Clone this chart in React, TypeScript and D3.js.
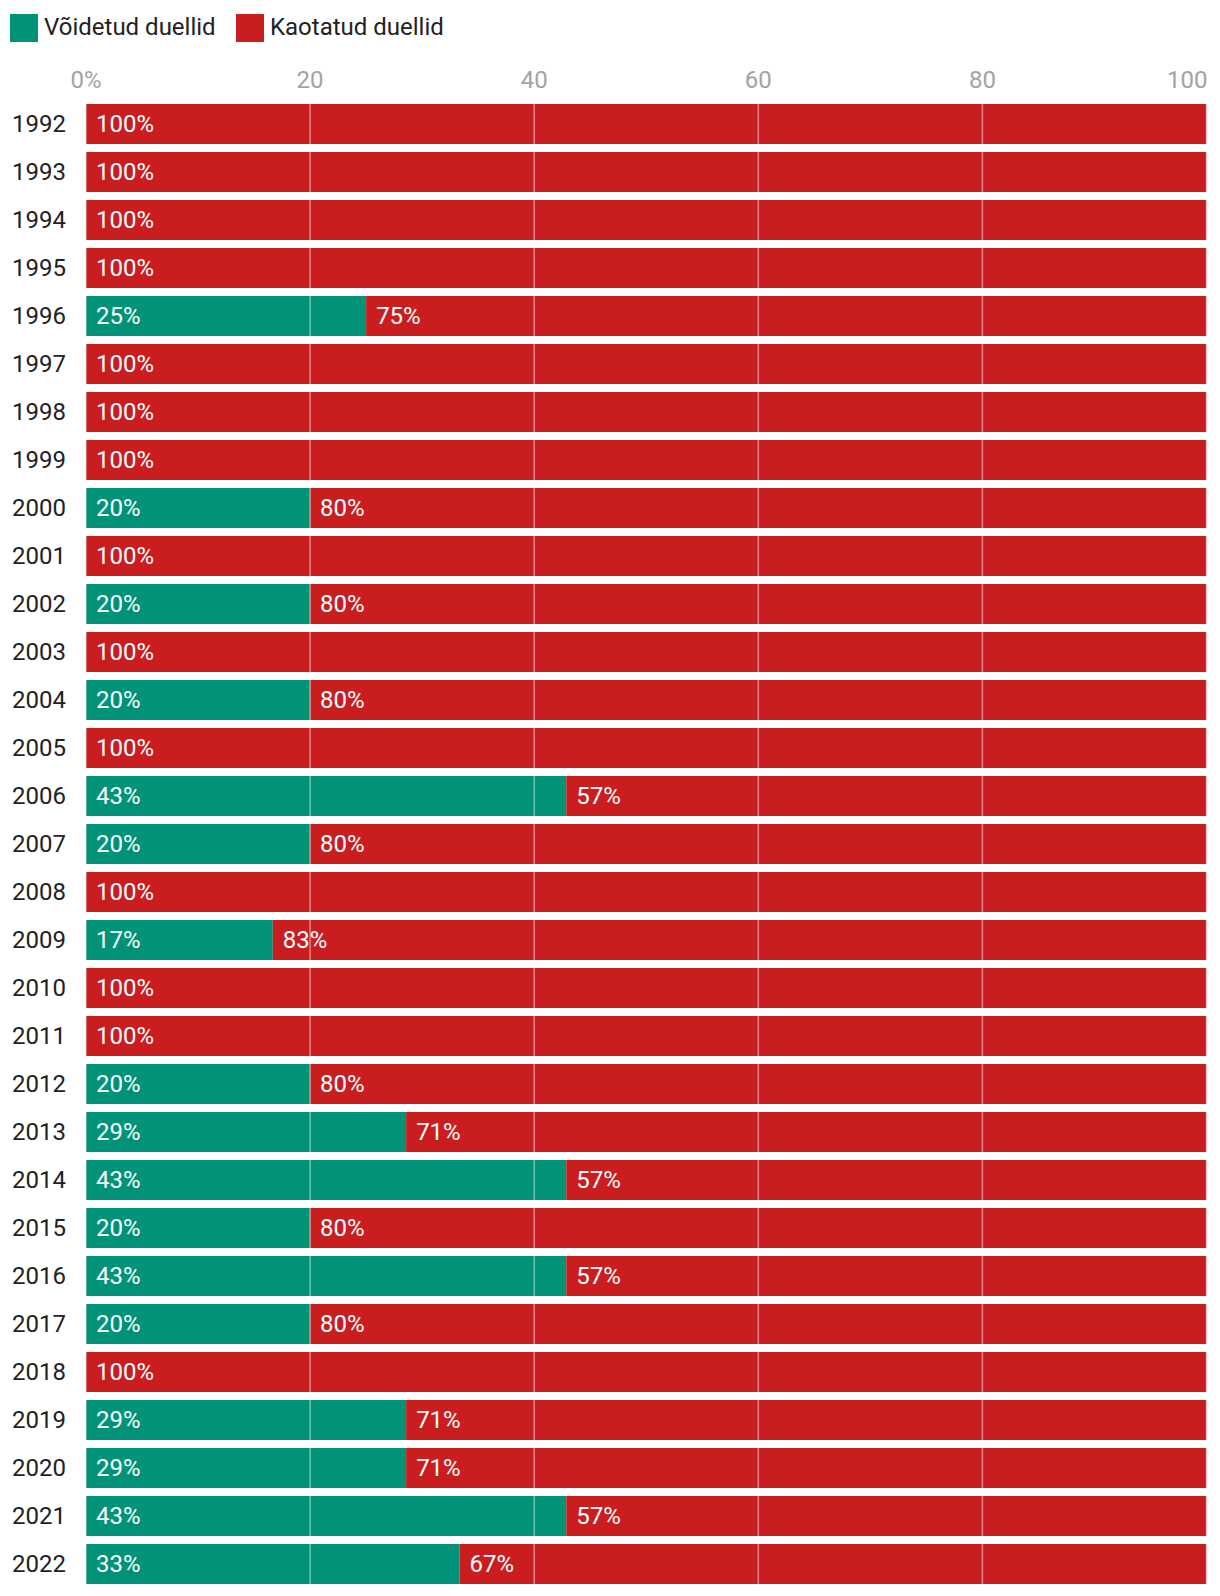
import React from "react";
import * as d3 from "d3";

const years = ["1992","1993","1994","1995","1996","1997","1998","1999","2000","2001","2002","2003","2004","2005","2006","2007","2008","2009","2010","2011","2012","2013","2014","2015","2016","2017","2018","2019","2020","2021","2022"];
const won = [0,0,0,0,25,0,0,0,20,0,20,0,20,0,42.86,20,0,16.67,0,0,20,28.57,42.86,20,42.86,20,0,28.57,28.57,42.86,33.33];
const lost = won.map((w) => 100 - w);
const ticks = [0, 20, 40, 60, 80, 100];
const seriesNames = ["Võidetud duellid", "Kaotatud duellid"];
const colors = ["#009378", "#c91d1f"];

const W = 1220;
const H = 1596;
const FONT = "Roboto, 'Noto Sans', sans-serif";
const FS = 24;

export default function App() {
  const x = d3.scaleLinear().domain([0, 100]).range([86, 1206.5]);
  const y = d3.scaleBand<string>().domain(years).range([100, 100 + 48 * years.length]).paddingInner(1 / 6).paddingOuter(1 / 12);
  const bh = y.bandwidth();
  const dy = 7.7;
  return (
    <svg width={W} height={H} style={{ position: "absolute", left: 0, top: 0, background: "#fff" }} fontFamily={FONT}>
      {/* legend */}
      {seriesNames.map((n, i) => {
        const lx = i === 0 ? 10 : 236;
        return (
          <g key={n}>
            <rect x={lx} y={14} width={28} height={28} fill={colors[i]} />
            <text x={lx + 34} y={35.2} fontSize={FS} fill="#222">{n}</text>
          </g>
        );
      })}
      {/* tick labels */}
      {ticks.map((t, i) => (
        <text key={t} x={i === ticks.length - 1 ? x(t) + 1 : x(t)} y={87.7} fontSize={FS} fill="#a3a3a3"
          textAnchor={i === ticks.length - 1 ? "end" : "middle"}>
          {t === 0 ? "0%" : String(t)}
        </text>
      ))}
      {/* bars */}
      {years.map((yr, i) => {
        const y0 = y(yr)!;
        const w = won[i];
        const l = lost[i];
        return (
          <g key={yr}>
            <text x={12} y={y0 + bh / 2 + dy} fontSize={FS} fill="#222">{yr}</text>
            {w > 0 && <rect x={x(0)} y={y0} width={x(w) - x(0)} height={bh} fill={colors[0]} />}
            {l > 0 && <rect x={x(w)} y={y0} width={x(100) - x(w)} height={bh} fill={colors[1]} />}
          </g>
        );
      })}
      {/* grid lines over bars */}
      {ticks.map((t) => (
        <line key={"g" + t} x1={x(t)} x2={x(t)} y1={y(years[0])!} y2={y(years[years.length - 1])! + bh}
          stroke="#fff" strokeOpacity={0.45} strokeWidth={1.5} />
      ))}
      {/* value labels */}
      {years.map((yr, i) => {
        const y0 = y(yr)!;
        const w = won[i];
        const l = lost[i];
        return (
          <g key={"v" + yr}>
            {w > 0 && <text x={x(0) + 10} y={y0 + bh / 2 + dy} fontSize={FS} fill="#fff">{Math.round(w) + "%"}</text>}
            {l > 0 && <text x={x(w) + 10} y={y0 + bh / 2 + dy} fontSize={FS} fill="#fff">{Math.round(l) + "%"}</text>}
          </g>
        );
      })}
    </svg>
  );
}
